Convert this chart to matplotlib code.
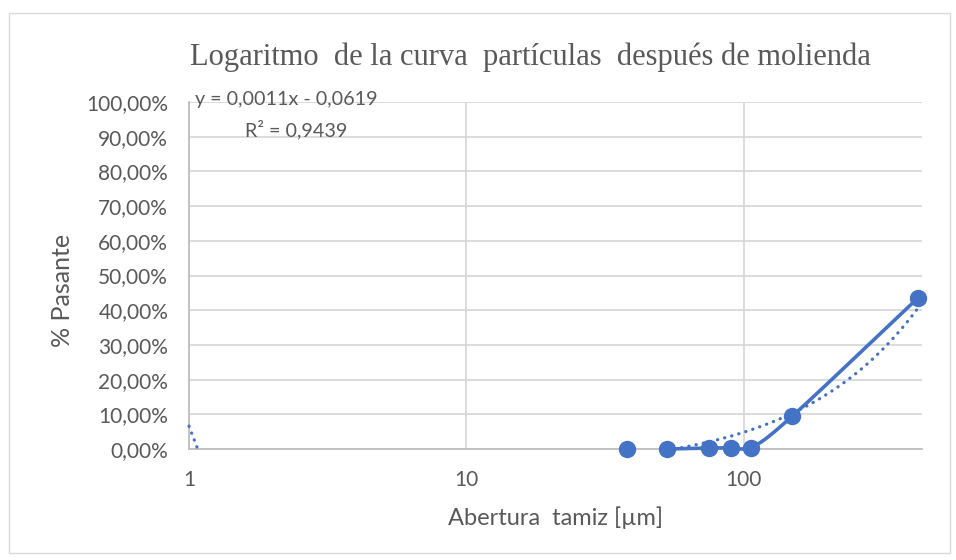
import numpy as np
import matplotlib
matplotlib.use("Agg")
import matplotlib.pyplot as plt
from matplotlib.ticker import FixedLocator, FuncFormatter, NullLocator
from matplotlib.patches import Rectangle

# data
abertura = [38, 53, 75, 90, 106, 150, 425]          # µm
pasante = [0.0, 0.0, 0.003, 0.003, 0.003, 0.095, 0.435]
slope, intercept = 0.0011, -0.0619                  # linear trendline shown on the chart
trend_stub_x = [1.0, 1.07]                          # odd trendline piece drawn near x=1
trend_stub_y = [0.066, 0.004]
x_ticks = [1, 10, 100]
y_ticks = [0.0, 0.1, 0.2, 0.3, 0.4, 0.5, 0.6, 0.7, 0.8, 0.9, 1.0]

BLUE = "#4472C4"
GRAY = "#595959"
GRID = "#d9d9d9"
SANS = ["Lato", "DejaVu Sans"]

fig = plt.figure(figsize=(9.56, 5.6), dpi=100)
ax = fig.add_axes([189 / 956, 1 - 449 / 560, (922 - 189) / 956, (449 - 102) / 560])

# outer chart border
fig.patches.append(Rectangle((9 / 956, 7 / 560), 941 / 956, 540 / 560, transform=fig.transFigure,
                             fill=False, edgecolor=GRID, lw=1.0))

ax.set_xscale("log")
ax.set_xlim(1, 440)
ax.set_ylim(0, 1.0)

# smoothed series line (Catmull-Rom through the points, in screen-like units)
px = np.log10(abertura[1:]) * 276.0
py = np.array(pasante[1:]) * 347.0
P = np.column_stack([px, py])
P = np.vstack([P[0] - (P[1] - P[0]), P, P[-1] + (P[-1] - P[-2])])
seg = []
for i in range(1, len(P) - 2):
    p0, p1, p2, p3 = P[i - 1], P[i], P[i + 1], P[i + 2]
    t = np.linspace(0, 1, 30)[:, None]
    c = 0.5 * ((2 * p1) + (-p0 + p2) * t + (2 * p0 - 5 * p1 + 4 * p2 - p3) * t ** 2
               + (-p0 + 3 * p1 - 3 * p2 + p3) * t ** 3)
    seg.append(c)
seg = np.vstack(seg)
ax.plot(10 ** (seg[:, 0] / 276.0), np.clip(seg[:, 1] / 347.0, 0, None), color=BLUE, lw=2.6,
        solid_capstyle="round", zorder=4, clip_on=False)

# markers
ax.plot(abertura, pasante, "o", color=BLUE, ms=11.5, zorder=5, clip_on=False)

# trendline (dotted)
x0 = -intercept / slope
xt = np.logspace(np.log10(x0), np.log10(abertura[-1]), 200)
ax.plot(xt, slope * xt + intercept, color=BLUE, lw=2.3, ls=(0, (0.1, 2.2)),
        dash_capstyle="round", zorder=3)
ax.plot(trend_stub_x, trend_stub_y, color=BLUE, lw=2.3, ls=(0, (0.1, 2.2)),
        dash_capstyle="round", zorder=3, clip_on=False)

# grid & spines
ax.xaxis.set_major_locator(FixedLocator(x_ticks))
ax.xaxis.set_minor_locator(NullLocator())
ax.yaxis.set_major_locator(FixedLocator(y_ticks))
ax.xaxis.set_major_formatter(FuncFormatter(lambda v, p: f"{v:g}"))
ax.yaxis.set_major_formatter(FuncFormatter(lambda v, p: f"{v * 100:.2f}%".replace(".", ",")))
ax.grid(True, color=GRID, lw=1.3)
ax.set_axisbelow(True)
for s in ["top", "right"]:
    ax.spines[s].set_visible(False)
for s in ["left", "bottom"]:
    ax.spines[s].set_color("#bfbfbf")
    ax.spines[s].set_linewidth(1.3)
ax.tick_params(length=0, labelsize=15, labelcolor=GRAY)
ax.tick_params(axis="y", pad=15)
ax.tick_params(axis="x", pad=15)
for lab in ax.get_xticklabels() + ax.get_yticklabels():
    lab.set_family(SANS)

ax.set_xlabel("Abertura  tamiz [µm]", fontsize=17, color=GRAY, family=SANS, labelpad=12)
fig.text(63 / 956, 1 - 290 / 560, "% Pasante", rotation=90, ha="center", va="center",
         fontsize=18, color=GRAY, family=SANS)

fig.text(530 / 956, 1 - 57 / 560, "Logaritmo  de la curva  partículas  después de molienda",
         ha="center", va="center", fontsize=22, color=GRAY, family=["Liberation Serif"])

fig.text(195 / 956, 1 - 100 / 560, "y = 0,0011x - 0,0619", ha="left", va="center",
         fontsize=14.2, color=GRAY, family=SANS)
fig.text(296 / 956, 1 - 130 / 560, "R² = 0,9439", ha="center", va="center",
         fontsize=14.2, color=GRAY, family=SANS)

fig.savefig("out.png", dpi=100)
